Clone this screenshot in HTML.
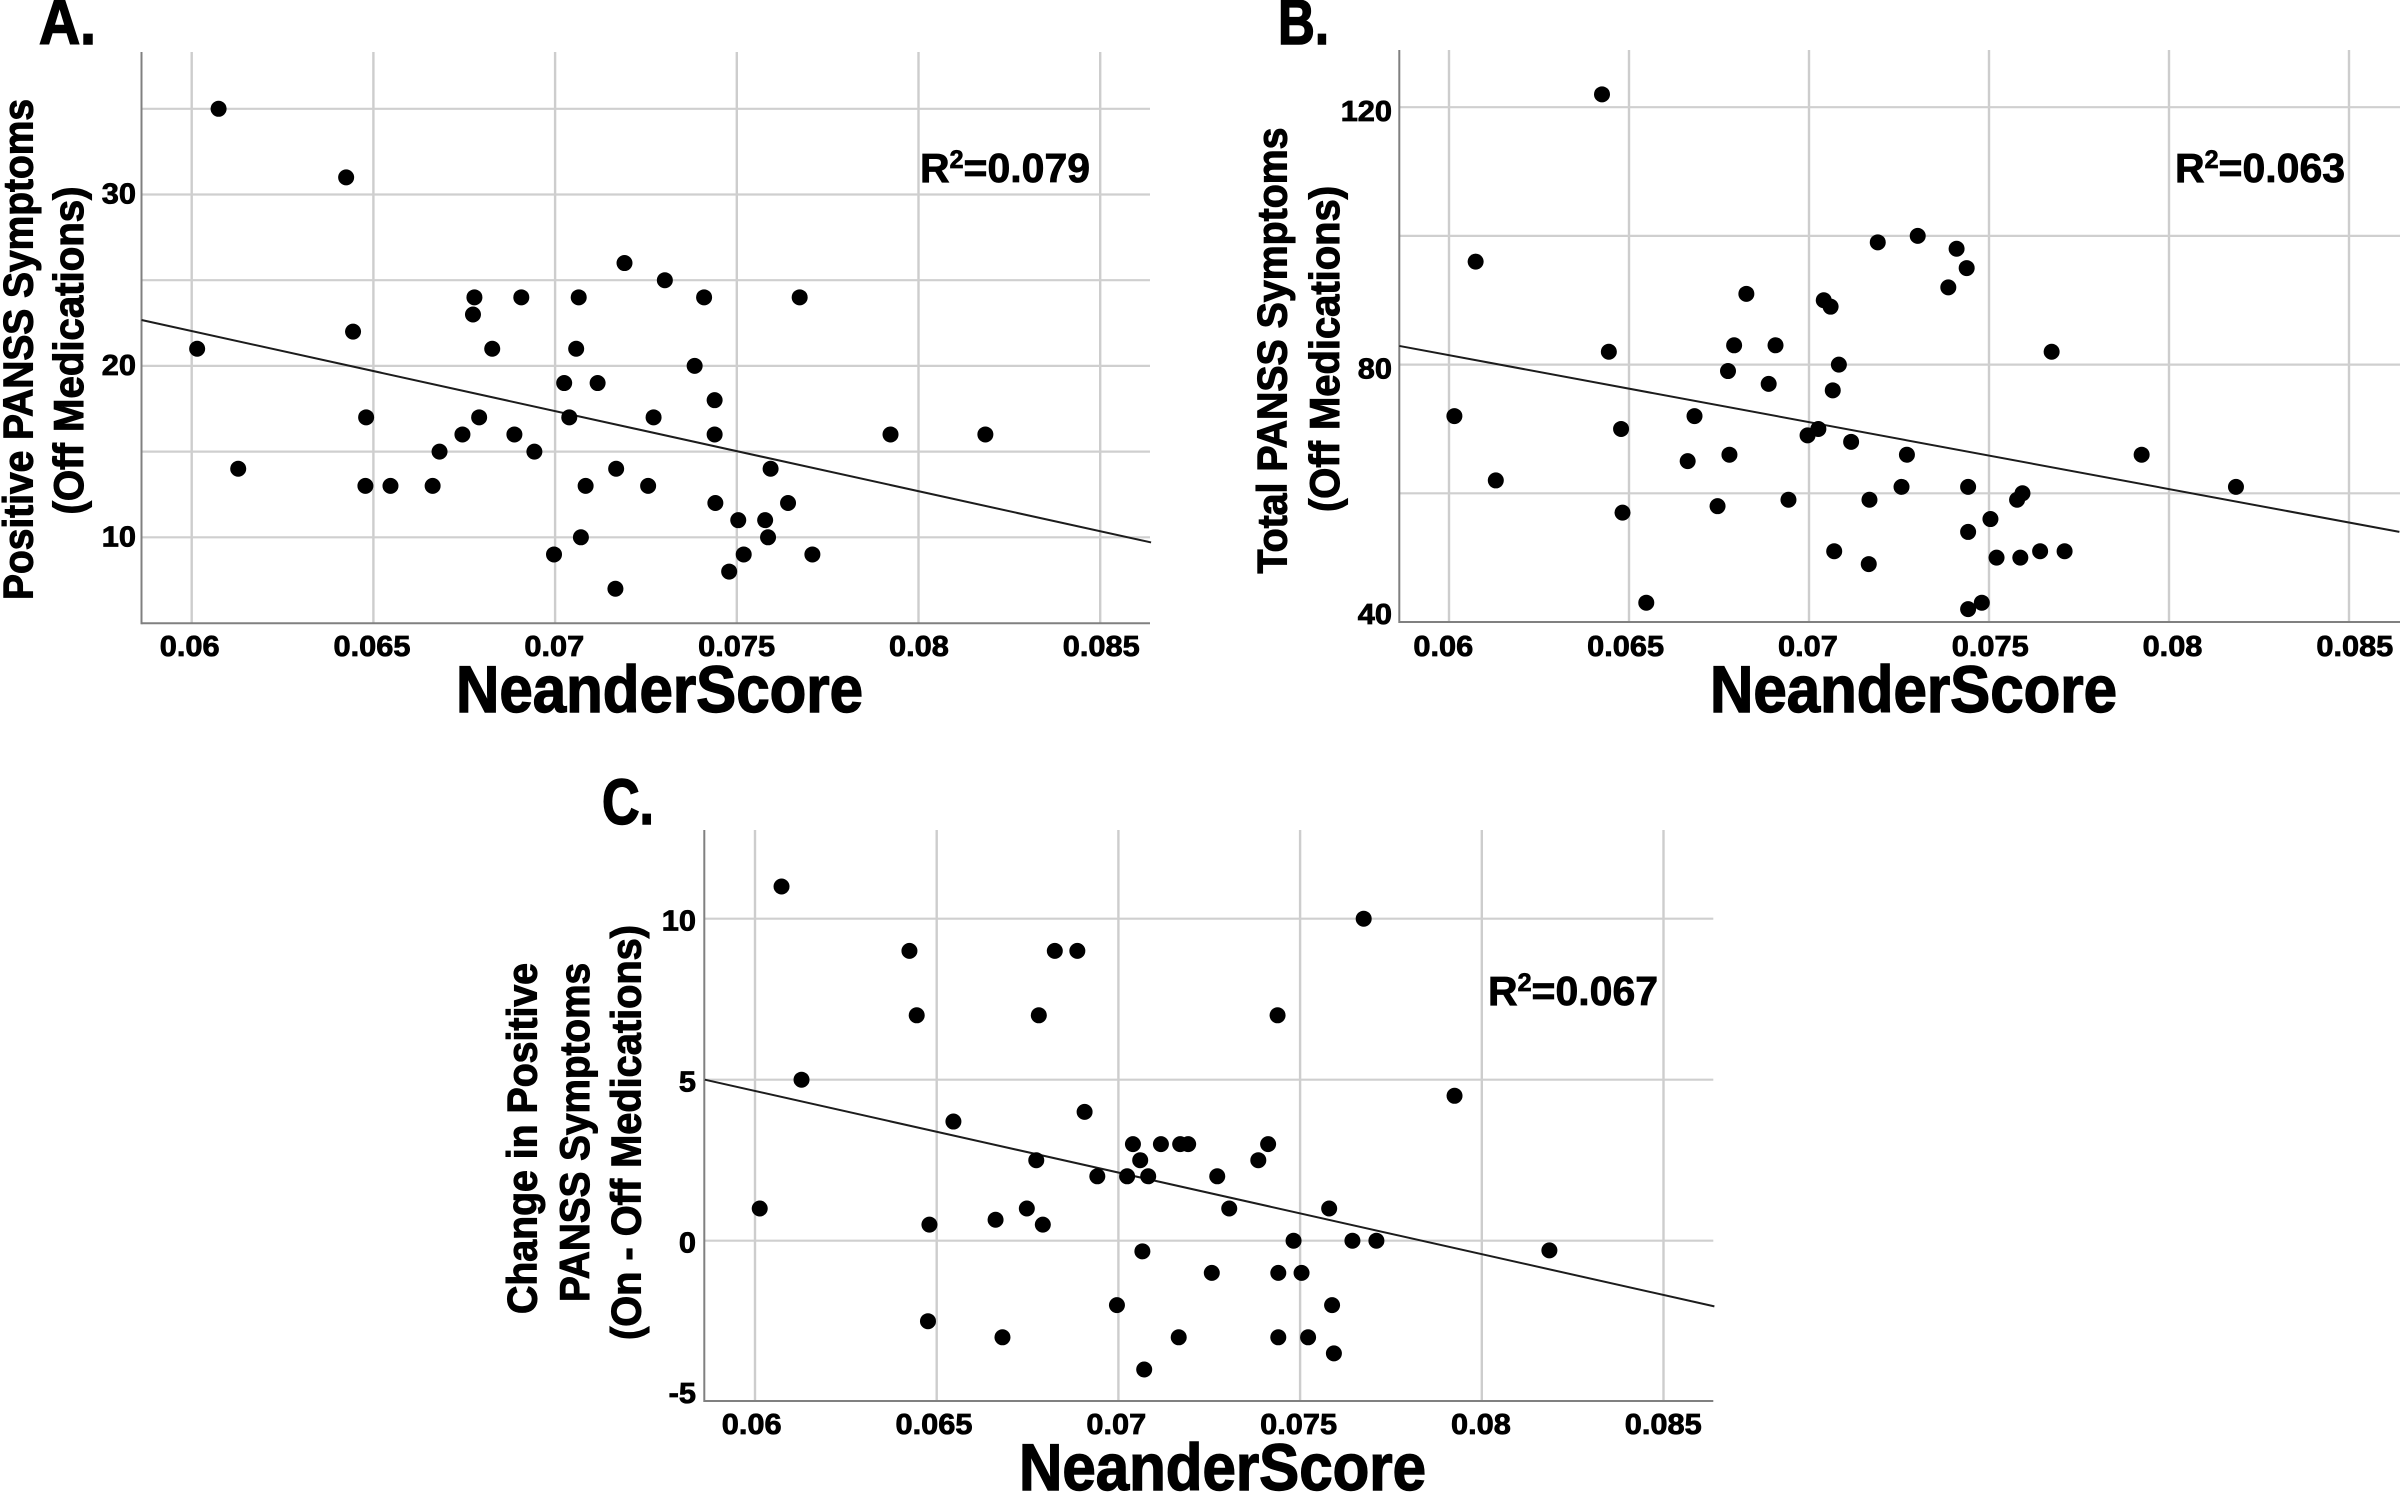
<!DOCTYPE html>
<html lang="en">
<head>
<meta charset="utf-8">
<title>NeanderScore vs PANSS Symptoms</title>
<style>
html,body{margin:0;padding:0;background:#fff;width:2400px;height:1493px;overflow:hidden}
svg{display:block}
text{font-family:"Liberation Sans",sans-serif;font-weight:700;fill:#000;stroke:#000;stroke-width:0.8px}
</style>
</head>
<body>
<svg id="figure" xmlns="http://www.w3.org/2000/svg" width="2400" height="1493" viewBox="0 0 2400 1493">
  <rect x="0" y="0" width="2400" height="1493" fill="#fff"/>
  <g id="plots"></g>

  <text x="39" y="44" font-size="64" textLength="57" lengthAdjust="spacingAndGlyphs" style="stroke-width:1.6px">A.</text>
  <text x="1278" y="44" font-size="64" textLength="51" lengthAdjust="spacingAndGlyphs" style="stroke-width:1.6px">B.</text>
  <text x="602" y="824" font-size="64" textLength="52" lengthAdjust="spacingAndGlyphs" style="stroke-width:1.6px">C.</text>

  <text x="456" y="712" font-size="66" textLength="407" lengthAdjust="spacingAndGlyphs" style="stroke-width:1.4px">NeanderScore</text>
  <text x="1710" y="712" font-size="66" textLength="407" lengthAdjust="spacingAndGlyphs" style="stroke-width:1.4px">NeanderScore</text>
  <text x="1019" y="1490" font-size="66" textLength="407" lengthAdjust="spacingAndGlyphs" style="stroke-width:1.4px">NeanderScore</text>

  <text transform="translate(32.5,600) rotate(-90)" font-size="42" textLength="501" lengthAdjust="spacingAndGlyphs" style="stroke-width:1.1px">Positive PANSS Symptoms</text>
  <text transform="translate(83,514.5) rotate(-90)" font-size="42" textLength="328" lengthAdjust="spacingAndGlyphs" style="stroke-width:1.1px">(Off Medications)</text>

  <text transform="translate(1286.7,573.5) rotate(-90)" font-size="42" textLength="446" lengthAdjust="spacingAndGlyphs" style="stroke-width:1.1px">Total PANSS Symptoms</text>
  <text transform="translate(1339,512) rotate(-90)" font-size="42" textLength="326" lengthAdjust="spacingAndGlyphs" style="stroke-width:1.1px">(Off Medications)</text>

  <text transform="translate(536.7,1314) rotate(-90)" font-size="42" textLength="351" lengthAdjust="spacingAndGlyphs" style="stroke-width:1.1px">Change in Positive</text>
  <text transform="translate(589,1302) rotate(-90)" font-size="42" textLength="339" lengthAdjust="spacingAndGlyphs" style="stroke-width:1.1px">PANSS Symptoms</text>
  <text transform="translate(640.7,1340) rotate(-90)" font-size="42" textLength="415" lengthAdjust="spacingAndGlyphs" style="stroke-width:1.1px">(On - Off Medications)</text>

  <text x="920" y="182" font-size="41">R<tspan font-size="25" dy="-14">2</tspan><tspan dy="14">=0.079</tspan></text>
  <text x="2175" y="182" font-size="41">R<tspan font-size="25" dy="-14">2</tspan><tspan dy="14">=0.063</tspan></text>
  <text x="1488" y="1005" font-size="41">R<tspan font-size="25" dy="-14">2</tspan><tspan dy="14">=0.067</tspan></text>
</svg>

<script>
var xTicks = [0.06, 0.065, 0.07, 0.075, 0.08, 0.085];
var xTickLabels = ["0.06", "0.065", "0.07", "0.075", "0.08", "0.085"];
var lineXEnds = [0.05862, 0.0864];

var panelAX = [0.06074,0.06425,0.06015,0.06444,0.06128,0.0648,0.06478,0.06547,0.06663,0.06682,0.06745,0.06774,0.06778,0.06791,0.06827,0.06888,0.06907,0.06943,0.06997,0.07025,0.07039,0.07058,0.07065,0.07071,0.07084,0.07117,0.07166,0.07168,0.07191,0.07256,0.07271,0.07302,0.07384,0.0741,0.07439,0.07439,0.07441,0.07479,0.07504,0.07519,0.07578,0.07586,0.07593,0.07641,0.07673,0.07708,0.07923,0.08184];
var panelAY = [35,31,21,22,14,17,13,13,13,15,16,23,24,17,21,16,24,15,9,19,17,21,24,10,13,19,7,14,26,13,17,25,20,24,18,16,12,8,11,9,11,10,14,12,24,9,16,16];
var panelAGridY = [10,15,20,25,30,35];
var panelATickValues = [10,20,30];
var panelATickLabels = ["10","20","30"];
var panelALineY = [22.68,9.7];

var panelBX = [0.06425,0.06074,0.06015,0.06444,0.0613,0.06478,0.06482,0.06548,0.06663,0.06682,0.06746,0.06775,0.06779,0.06792,0.06826,0.06888,0.06907,0.06943,0.06996,0.07026,0.07041,0.0706,0.07066,0.0707,0.07083,0.07117,0.07168,0.07166,0.07191,0.07257,0.07272,0.07302,0.07387,0.0741,0.07438,0.07442,0.07442,0.07442,0.0748,0.07504,0.07521,0.07578,0.07587,0.07593,0.07642,0.07674,0.0771,0.07924,0.08186];
var panelBY = [122,96,72,82,62,70,57,43,65,72,58,79,66,83,91,77,83,59,69,70,90,89,76,51,80,68,59,49,99,61,66,100,92,98,95,61,54,42,43,56,50,59,50,60,51,82,51,66,61];
var panelBGridY = [60,80,100,120];
var panelBTickValues = [40,80,120];
var panelBTickLabels = ["40","80","120"];
var panelBLineY = [82.9,54.0];

var panelCX = [0.06073,0.06425,0.06825,0.06887,0.07675,0.06445,0.06781,0.07438,0.06128,0.07925,0.06907,0.06546,0.0704,0.07117,0.0717,0.07192,0.07412,0.06774,0.0706,0.07385,0.06942,0.07024,0.07082,0.07272,0.06013,0.06748,0.07305,0.0758,0.06662,0.0648,0.06792,0.07482,0.07644,0.0771,0.07066,0.08186,0.07257,0.0744,0.07504,0.06996,0.07588,0.06476,0.06681,0.07166,0.0744,0.07522,0.07593,0.07071];
var panelCY = [11,9,9,9,10,7,7,7,5,4.5,4,3.7,3,3,3,3,3,2.5,2.5,2.5,2,2,2,2,1,1,1,1,0.65,0.5,0.5,0,0,0,-0.33,-0.3,-1,-1,-1,-2,-2,-2.5,-3,-3,-3,-3,-3.5,-4];
var panelCGridY = [0,5,10];
var panelCTickValues = [-5,0,5,10];
var panelCTickLabels = ["-5","0","5","10"];
var panelCLineY = [5.0,-2.04];

var NS = "http://www.w3.org/2000/svg";
var root = document.getElementById("plots");

function add(parent, tag, attrs, name) {
  var el = document.createElementNS(NS, tag);
  for (var k in attrs) { el.setAttribute(k, attrs[k]); }
  
  
  parent.appendChild(el);
  return el;
}

function drawPanel(id, frame, xs, ys, gridY, tickValues, tickLabels, lineY) {
  function sx(v) { return frame.x060 + (v - 0.06) / 0.005 * frame.xStep; }
  function sy(v) { return frame.yRef - (v - frame.vRef) * frame.yUnit; }
  function labelX(v) { return frame.label060 + (v - 0.06) / 0.005 * 182.3; }

  var g = add(root, "g", {}, "panel-" + id);

  xTicks.forEach(function (t) {
    add(g, "line", {x1: sx(t), x2: sx(t), y1: frame.top, y2: frame.bottom, stroke: "#cdcdcd", "stroke-width": 2.4}, "x-gridline-" + id);
  });
  gridY.forEach(function (t) {
    add(g, "line", {x1: frame.left, x2: frame.right, y1: sy(t), y2: sy(t), stroke: "#cfcfcf", "stroke-width": 2.2}, "y-gridline-" + id);
  });

  add(g, "line", {x1: frame.left, x2: frame.left, y1: frame.top, y2: frame.bottom + 1, stroke: "#808080", "stroke-width": 2}, "y-axis-line-" + id);
  add(g, "line", {x1: frame.left, x2: frame.right, y1: frame.bottom, y2: frame.bottom, stroke: "#808080", "stroke-width": 2}, "x-axis-line-" + id);

  add(g, "line", {x1: sx(lineXEnds[0]), x2: sx(lineXEnds[1]), y1: sy(lineY[0]), y2: sy(lineY[1]), stroke: "#1c1c1c", "stroke-width": 2}, "regression-line-" + id);

  xs.forEach(function (x, i) {
    add(g, "circle", {cx: sx(x), cy: sy(ys[i]), r: 8, fill: "#000"}, "data-point-" + id);
  });

  xTicks.forEach(function (t, i) {
    var lbl = add(g, "text", {"text-anchor": "middle", "font-size": 29, transform: "translate(" + labelX(t) + "," + frame.xLabelBase + ") scale(1.06,1)"}, "x-tick-label-" + id);
    lbl.textContent = xTickLabels[i];
  });
  tickValues.forEach(function (t, i) {
    var base = Math.min(sy(t) + frame.yLabelShift, frame.bottom + 2);
    var lbl = add(g, "text", {"text-anchor": "end", "font-size": 29, transform: "translate(" + frame.yLabelRight + "," + base + ") scale(1.06,1)"}, "y-tick-label-" + id);
    lbl.textContent = tickLabels[i];
  });
}

drawPanel("a",
  {left: 141.5, right: 1150, top: 52, bottom: 623.3, x060: 191.7, xStep: 181.7, yRef: 537.3, vRef: 10, yUnit: 17.14, label060: 189.7, xLabelBase: 656, yLabelRight: 136, yLabelShift: 9},
  panelAX, panelAY, panelAGridY, panelATickValues, panelATickLabels, panelALineY);

drawPanel("b",
  {left: 1399.3, right: 2400, top: 50, bottom: 622, x060: 1449, xStep: 180, yRef: 622, vRef: 40, yUnit: 6.435, label060: 1443.3, xLabelBase: 656, yLabelRight: 1392, yLabelShift: 14},
  panelBX, panelBY, panelBGridY, panelBTickValues, panelBTickLabels, panelBLineY);

drawPanel("c",
  {left: 704.3, right: 1713.3, top: 830, bottom: 1401, x060: 755, xStep: 181.7, yRef: 1240.7, vRef: 0, yUnit: 32.2, label060: 751.7, xLabelBase: 1434, yLabelRight: 696, yLabelShift: 12},
  panelCX, panelCY, panelCGridY, panelCTickValues, panelCTickLabels, panelCLineY);
</script>
</body>
</html>
